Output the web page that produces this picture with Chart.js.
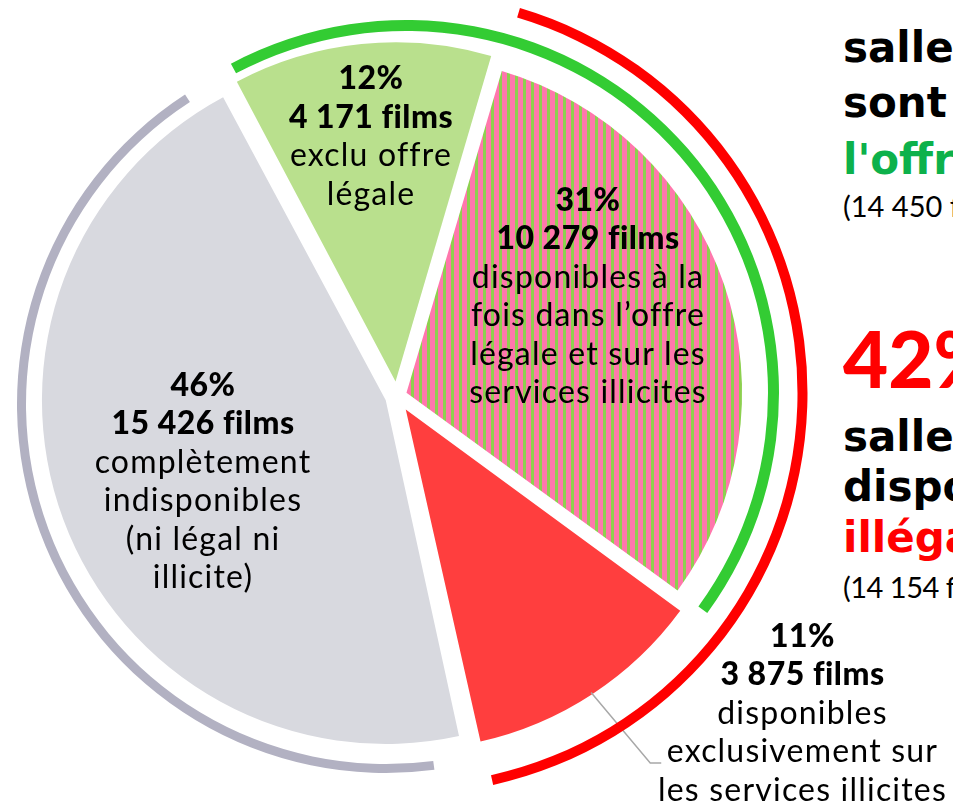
<!DOCTYPE html>
<html><head><meta charset="utf-8">
<script src="https://cdn.jsdelivr.net/npm/chart.js@4"></script>
<style>
html,body{margin:0;padding:0;width:953px;height:806px;overflow:hidden;background:#fff;}
canvas{position:absolute;}
.lbl{position:absolute;text-align:center;font-family:Lato,sans-serif;font-size:32px;line-height:38.4px;color:#000;white-space:nowrap;transform:translateX(-50%);letter-spacing:1.2px;font-weight:400}
.lbl b{font-weight:900;letter-spacing:0.5px}
.side{position:absolute;left:843px;white-space:nowrap;color:#000}
</style></head><body>
<canvas id="pie"></canvas>
<canvas id="grayArc"></canvas>
<canvas id="greenArc"></canvas>
<canvas id="redArc"></canvas>
<div id="labels"></div>
<div id="side"></div>
<script>
// ---- data ----
const categories = ['exclu offre légale', 'disponibles à la fois dans l’offre légale et sur les services illicites', 'disponibles exclusivement sur les services illicites', 'complètement indisponibles (ni légal ni illicite)'];
const films = [4171, 10279, 3875, 15426];
const percents = [12, 31, 11, 46];
const descLines = [
  ['exclu offre', 'légale'],
  ['disponibles à la', 'fois dans l’offre', 'légale et sur les', 'services illicites'],
  ['disponibles', 'exclusivement sur', 'les services illicites'],
  ['complètement', 'indisponibles', '(ni légal ni', 'illicite)']
];
const legalFilms = films[0] + films[1];     // 14 450
const illicitFilms = films[1] + films[2];   // 14 154
const illicitPct = 42;

// ---- helpers ----
const fmt = n => String(n).replace(/\B(?=(\d{3})+(?!\d))/g, '\u00a0');
const total = films.reduce((a, b) => a + b, 0);
const deg = v => 360 * v / total;
const ROT = -28;
const noUi = {responsive:false, animation:false, events:[], plugins:{legend:{display:false}, tooltip:{enabled:false}}, layout:{padding:0}};

// stripe pattern
const tile = document.createElement('canvas'); tile.width = 8; tile.height = 4;
const tc = tile.getContext('2d');
tc.fillStyle = '#ff77ac'; tc.fillRect(0, 0, 5, 4);
tc.fillStyle = '#8dd04f'; tc.fillRect(5, 0, 3, 4);
const stripes = tc.createPattern(tile, 'repeat');

// ---- pie ----
const B = {x: 397, y: 396};
const pieSize = 800;
const pieCv = document.getElementById('pie');
pieCv.width = pieSize; pieCv.height = pieSize;
pieCv.style.left = (B.x - pieSize / 2) + 'px'; pieCv.style.top = (B.y - pieSize / 2) + 'px';

// keep the stripes on whole pixels (the offset translation is fractional)
const crisp = {
  id: 'crisp',
  beforeDatasetsDraw(chart) {
    chart.ctx.imageSmoothingEnabled = false;
    const arc = chart.getDatasetMeta(0).data[1];
    const o = (arc.options.offset || 0) / 4;
    const mid = (arc.startAngle + arc.endAngle) / 2;
    const dx = Math.cos(mid) * o, dy = Math.sin(mid) * o;
    if (stripes.setTransform) stripes.setTransform(new DOMMatrix().translate(Math.round(dx) - dx, Math.round(dy) - dy));
  }
};

const leader = {
  id: 'leader',
  afterDatasetsDraw(chart) {
    const arc = chart.getDatasetMeta(0).data[2];
    const o = (arc.options.offset || 0) / 4;
    const mid = (arc.startAngle + arc.endAngle) / 2;
    const fix = 1 - Math.sin(Math.min(Math.PI, arc.endAngle - arc.startAngle));
    const cx = arc.x + Math.cos(mid) * o, cy = arc.y + Math.sin(mid) * o;
    const r0 = arc.outerRadius + o * fix - 2;
    const x0 = cx + Math.cos(mid) * r0, y0 = cy + Math.sin(mid) * r0;
    const a = 50 * Math.PI / 180, len = 92;
    const x1 = x0 + Math.cos(a) * len, y1 = y0 + Math.sin(a) * len;
    const c = chart.ctx;
    c.save();
    c.strokeStyle = '#a8a8a8'; c.lineWidth = 1.5;
    c.beginPath(); c.moveTo(x0, y0); c.lineTo(x1, y1); c.lineTo(x1 + 11, y1); c.stroke();
    c.restore();
  }
};

new Chart(pieCv, {
  type: 'pie',
  data: {labels: categories, datasets: [{
    data: films,
    backgroundColor: ['#b9e08d', stripes, '#ff3e3e', '#d8d9df'],
    borderWidth: 0,
    offset: [58, 40, 64, 48],
    hoverOffset: 0
  }]},
  options: Object.assign({}, noUi, {rotation: ROT, radius: 335}),
  plugins: [crisp, leader]
});

// ---- outer arcs ----
function ringArc(id, cx, cy, R, th, value, color, rotDeg, circDeg) {
  const S = Math.ceil(R + 4) * 2;
  const cv = document.getElementById(id);
  cv.width = S; cv.height = S;
  cv.style.left = (cx - S / 2) + 'px'; cv.style.top = (cy - S / 2) + 'px';
  new Chart(cv, {
    type: 'doughnut',
    data: {datasets: [
      {data: [value], backgroundColor: [color], borderWidth: 0, rotation: rotDeg, circumference: circDeg, hoverOffset: 0},
      {data: [1], backgroundColor: ['rgba(0,0,0,0)'], borderWidth: 0, weight: 0, hoverOffset: 0}
    ]},
    options: Object.assign({}, noUi, {radius: R, cutout: (100 * (R - th) / R) + '%', rotation: 0, circumference: 360})
  });
}
const TRIM = 5;
ringArc('grayArc', 386, 403.5, 369, 9, films[3], '#b2b1c2',
  ROT + deg(films[0] + films[1] + films[2]) + TRIM, deg(films[3]) - 2 * TRIM);
ringArc('greenArc', 406, 392.5, 373, 11, legalFilms, '#33cc33', ROT, deg(legalFilms));
ringArc('redArc', 406, 393, 401.5, 10, illicitFilms, '#ff0000', ROT + deg(films[0]), deg(illicitFilms));

// ---- slice labels ----
const labelPos = [{x: 371, top: 58.4}, {x: 588, top: 180}, {x: 802.5, top: 616}, {x: 203, top: 365}];
const lab = document.getElementById('labels');
films.forEach((f, i) => {
  const d = document.createElement('div');
  d.className = 'lbl';
  d.style.left = labelPos[i].x + 'px'; d.style.top = labelPos[i].top + 'px';
  d.innerHTML = `<b>${percents[i]}%</b><br><b>${fmt(f)} films</b><br>` + descLines[i].join('<br>');
  lab.appendChild(d);
});

// ---- side text ----
const DJ = {fam: '"DejaVu Sans",sans-serif', k: 0.846};
const LT = {fam: 'Lato,sans-serif', k: 0.887};
const sideLines = [
  {t: 'salles', b: 63, f: 42, w: 700, c: '#000', ft: DJ},
  {t: 'sont dans', b: 118, f: 42, w: 700, c: '#000', ft: DJ},
  {t: 'l\'offre légale', b: 175, f: 42, w: 700, c: '#0db14b', ft: DJ},
  {t: '(' + fmt(legalFilms) + ' films)', b: 217, f: 29, w: 400, c: '#000', ls: 0, ft: LT},
  {t: illicitPct + '%', b: 388, f: 78, w: 900, c: '#ff0000', ft: LT},
  {t: 'salles', b: 452, f: 42, w: 700, c: '#000', ft: DJ},
  {t: 'disponibles', b: 502, f: 42, w: 700, c: '#000', ft: DJ},
  {t: 'illégalement', b: 553, f: 42, w: 700, c: '#ff0000', ft: DJ},
  {t: '(' + fmt(illicitFilms) + ' films)', b: 598, f: 29, w: 400, c: '#000', ls: -0.5, ft: LT}
];
const side = document.getElementById('side');
sideLines.forEach(l => {
  const d = document.createElement('div');
  d.className = 'side';
  d.textContent = l.t;
  d.style.fontFamily = l.ft.fam;
  d.style.fontSize = l.f + 'px'; d.style.lineHeight = l.f + 'px';
  d.style.fontWeight = l.w; d.style.color = l.c;
  d.style.letterSpacing = (l.ls || 0) + 'px';
  d.style.top = (l.b - l.ft.k * l.f) + 'px';
  side.appendChild(d);
});
</script>
</body></html>
